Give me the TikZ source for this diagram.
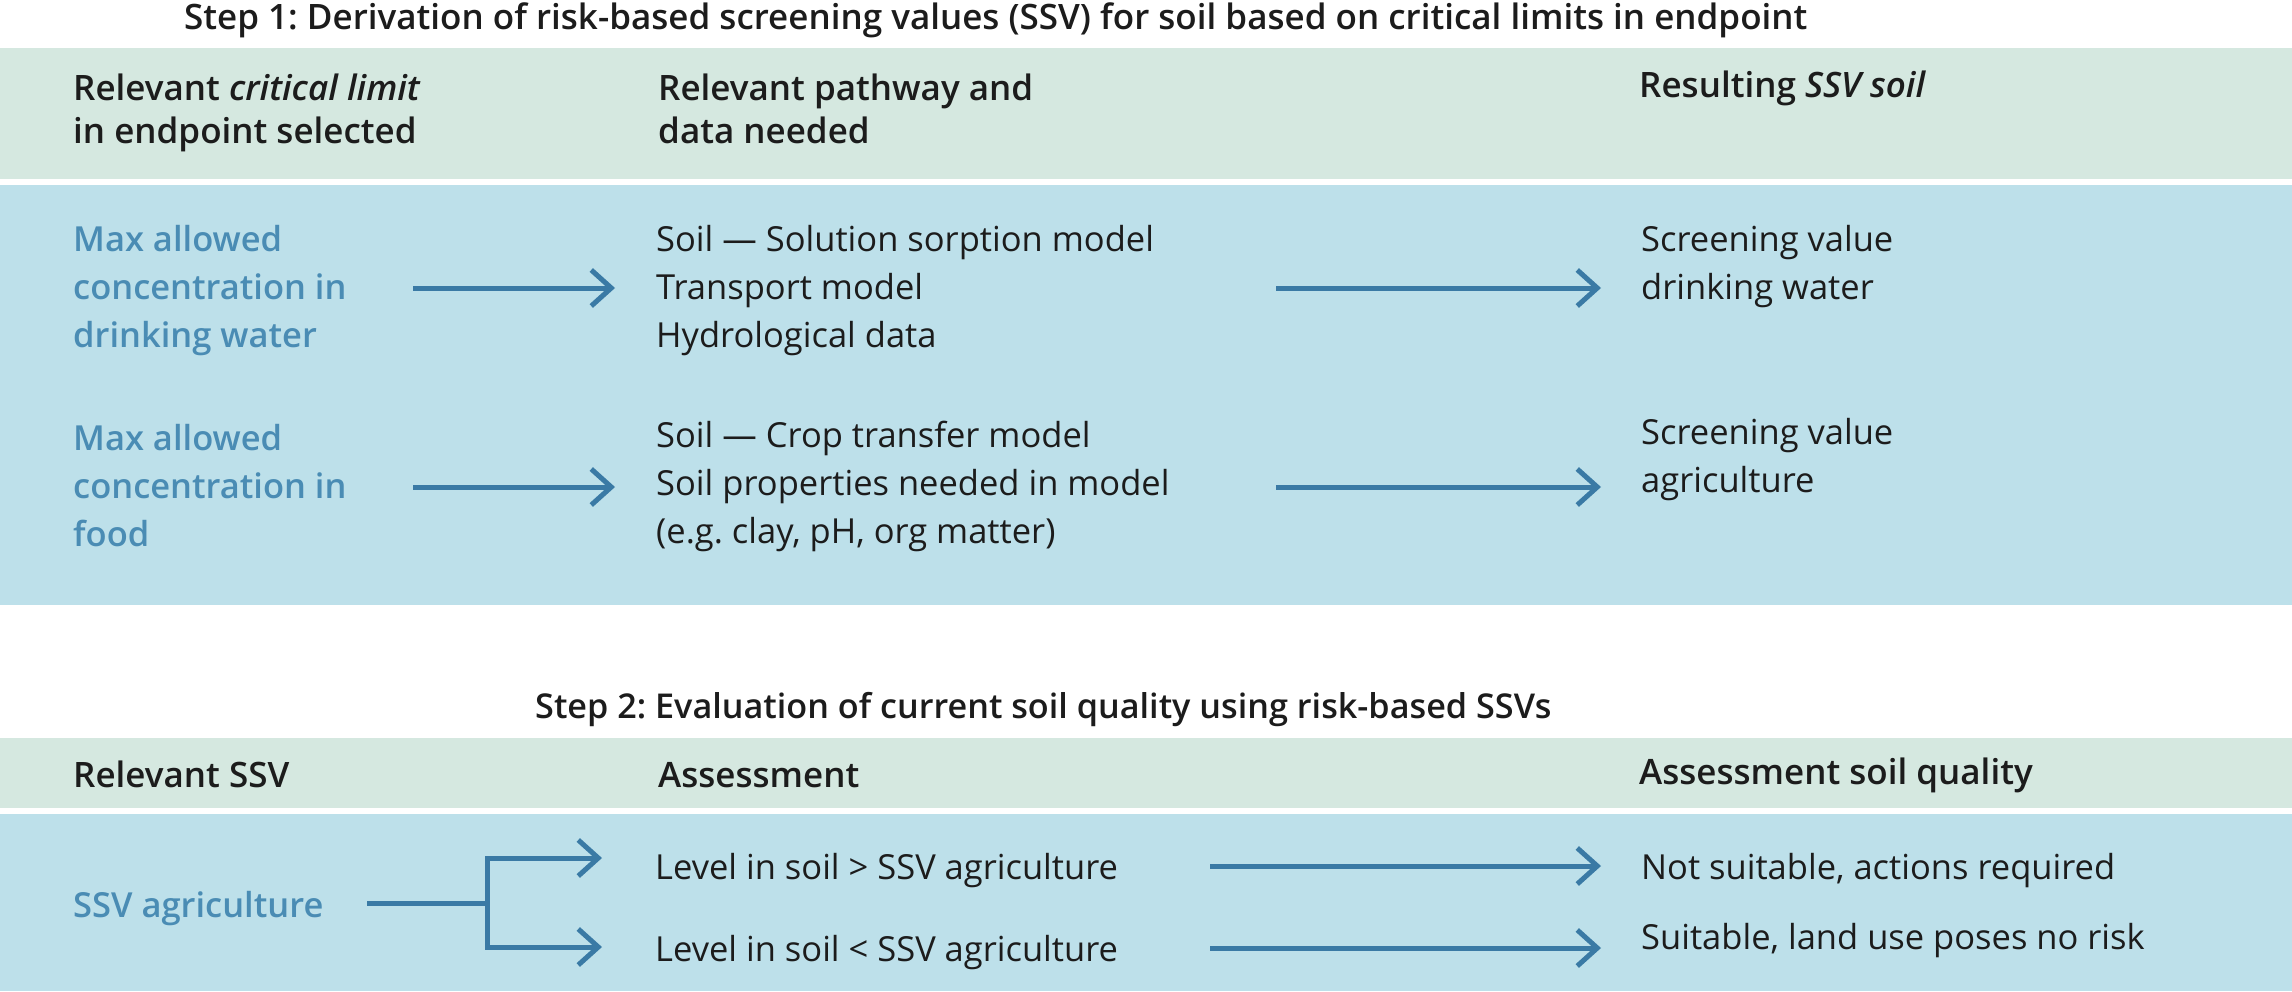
\documentclass[tikz,border=0pt]{standalone}
\usepackage{fontspec}
\setmainfont{Open Sans}
\IfFontExistsTF{Open Sans SemiBold}{\newfontfamily\sbf{Open Sans SemiBold}}{%
  \IfFontExistsTF{Open Sans Semibold}{\newfontfamily\sbf{Open Sans Semibold}}{\newcommand\sbf{\bfseries}}}
\usetikzlibrary{arrows.meta}
\frenchspacing
\definecolor{hdrgreen}{HTML}{D5E8E0}
\definecolor{bandblue}{HTML}{BDE0EA}
\definecolor{txtblue}{HTML}{4A8CB4}
\definecolor{arrblue}{HTML}{3A7AA5}
\definecolor{ink}{HTML}{1C1C1C}
\newcommand\ml[1]{\begin{tabular}[t]{@{}l@{}}#1\end{tabular}}
\tikzset{
  txt/.style={anchor=base west, inner sep=0pt, text=ink, font=\frenchspacing\fontsize{34.5}{48}\selectfont},
  hdr/.style={anchor=base west, inner sep=0pt, text=ink, font=\frenchspacing\sbf\fontsize{35}{43}\selectfont},
  bluetxt/.style={anchor=base west, inner sep=0pt, text=txtblue, font=\frenchspacing\sbf\fontsize{34.5}{48}\selectfont},
  titletxt/.style={anchor=base west, inner sep=0pt, text=ink, font=\frenchspacing\sbf\fontsize{35}{40}\selectfont},
  arr/.style={draw=arrblue, line width=5pt, line join=miter,
    -{Straight Barb[length=20pt,width=36pt,line width=5pt]}},
  plainline/.style={draw=arrblue, line width=5pt}
}
\begin{document}
\begin{tikzpicture}[x=1pt,y=-1pt]
\useasboundingbox (0,0) rectangle (2292,991);
\fill[white] (0,0) rectangle (2292,991);
\fill[hdrgreen] (0,48) rectangle (2292,179);
\fill[bandblue] (0,185) rectangle (2292,605);
\fill[hdrgreen] (0,738) rectangle (2292,808);
\fill[bandblue] (0,814) rectangle (2292,991);

% Step 1
\node[titletxt] (t1) at (184,29) {Step 1: Derivation of risk-based screening values (SSV) for soil based on critical limits in endpoint};
\node[hdr] (h1) at (73,100) {\ml{Relevant {\itshape critical limit}\\in endpoint selected}};
\node[hdr] (h2) at (658,100) {\ml{Relevant pathway and\\data needed}};
\node[hdr] (h3) at (1639,97) {Resulting {\itshape SSV soil}};

\node[bluetxt] (m1) at (73,251) {\ml{Max allowed\\concentration in\\drinking water}};
\node[txt] (p1) at (656,251) {\ml{Soil — Solution sorption model\\Transport model\\Hydrological data}};
\node[txt] (r1) at (1641,251) {\ml{Screening value\\drinking water}};

\node[bluetxt] (m2) at (73,450) {\ml{Max allowed\\concentration in\\food}};
\node[txt] (p2) at (656,447) {\ml{Soil — Crop transfer model\\Soil properties needed in model\\(e.g. clay, pH, org matter)}};
\node[txt] (r2) at (1641,444) {\ml{Screening value\\agriculture}};

\coordinate (a1s) at (413,288);  \coordinate (a1e) at (615,288);
\coordinate (b1s) at (1276,288); \coordinate (b1e) at (1601,288);
\coordinate (a2s) at (413,487);  \coordinate (a2e) at (615,487);
\coordinate (b2s) at (1276,487); \coordinate (b2e) at (1601,487);
\draw[arr] (a1s) -- (a1e);
\draw[arr] (b1s) -- (b1e);
\draw[arr] (a2s) -- (a2e);
\draw[arr] (b2s) -- (b2e);

% Step 2
\node[titletxt, font=\frenchspacing\sbf\fontsize{34.2}{40}\selectfont] (t2) at (535,718) {Step 2: Evaluation of current soil quality using risk-based SSVs};
\node[hdr] (h4) at (73,787) {Relevant SSV};
\node[hdr] (h5) at (658,787) {Assessment};
\node[hdr] (h6) at (1639,784) {Assessment soil quality};

\node[bluetxt] (s1) at (73,917) {SSV agriculture};
\node[txt] (l1) at (655,879) {Level in soil > SSV agriculture};
\node[txt] (l2) at (655,961) {Level in soil < SSV agriculture};
\node[txt] (q1) at (1641,879) {Not suitable, actions required};
\node[txt] (q2) at (1641,949) {Suitable, land use poses no risk};

\coordinate (br0) at (367,903);
\coordinate (brj) at (487,903);
\coordinate (br1) at (602,858);
\coordinate (br2) at (602,947);
\draw[plainline] (br0) -- (brj);
\draw[arr] (brj) |- (br1);
\draw[arr] (brj) |- (br2);

\coordinate (c1s) at (1210,866); \coordinate (c1e) at (1601,866);
\coordinate (c2s) at (1210,948); \coordinate (c2e) at (1601,948);
\draw[arr] (c1s) -- (c1e);
\draw[arr] (c2s) -- (c2e);
\end{tikzpicture}
\end{document}
